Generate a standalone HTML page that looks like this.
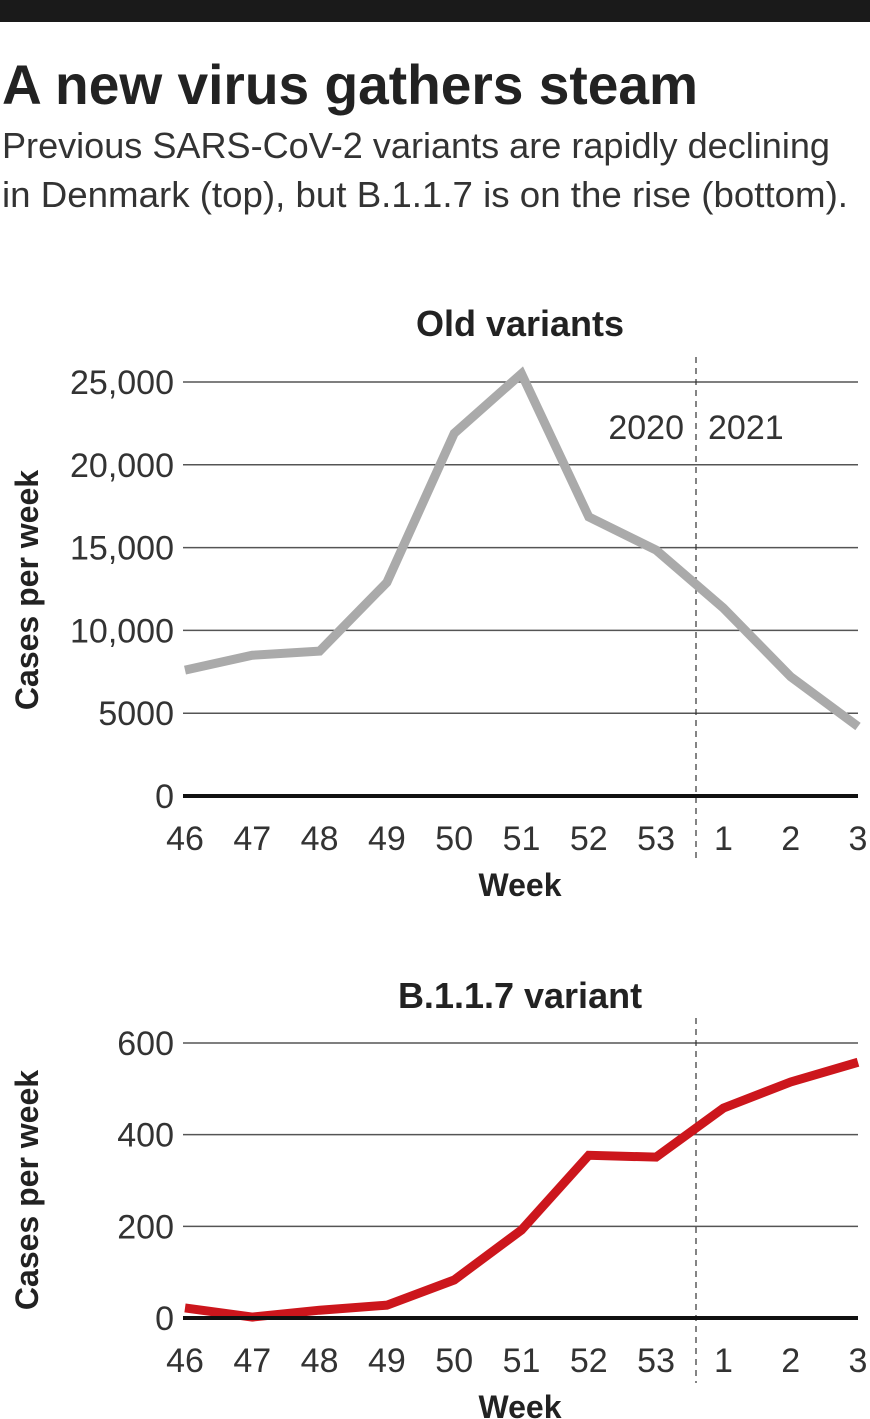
<!DOCTYPE html>
<html><head><meta charset="utf-8"><style>
html,body{margin:0;padding:0;background:#fff;}
svg{display:block;font-family:"Liberation Sans Narrow","Liberation Sans",sans-serif;}
</style></head><body>
<svg id="c" width="870" height="1419" viewBox="0 0 870 1419">
<rect x="0" y="0" width="870" height="22" fill="#1a1a1a"/>
<text x="2" y="104" font-size="56" font-weight="bold" fill="#222" textLength="696" lengthAdjust="spacingAndGlyphs">A new virus gathers steam</text>
<text x="2" y="158" font-size="36" fill="#333" textLength="828" lengthAdjust="spacingAndGlyphs">Previous SARS-CoV-2 variants are rapidly declining</text>
<text x="2" y="207" font-size="36" fill="#333" textLength="846" lengthAdjust="spacingAndGlyphs">in Denmark (top), but B.1.1.7 is on the rise (bottom).</text>
<g id="topchart"></g>
<g id="botchart"></g>
</svg>
<script>
const weeks = ["46","47","48","49","50","51","52","53","1","2","3"];
const oldValues = [7600,8500,8750,12900,21900,25500,16850,14850,11350,7200,4200];
const oldTicks = [0,5000,10000,15000,20000,25000];
const oldTickLabels = ["0","5000","10,000","15,000","20,000","25,000"];
const newValues = [22,2,17,28,83,192,355,351,458,515,558];
const newTicks = [0,200,400,600];
const newTickLabels = ["0","200","400","600"];
const NS="http://www.w3.org/2000/svg";
function mk(tag,attrs,parent,txt){const e=document.createElementNS(NS,tag);for(const k in attrs)e.setAttribute(k,attrs[k]);if(txt!==undefined)e.textContent=txt;parent.appendChild(e);return e;}
const x0=185,x1=858;
function xs(i){return x0+i*(x1-x0)/(weeks.length-1);}
function draw(g,o){
  const ys=v=>o.y0-(v-o.vmin)/(o.vmax-o.vmin)*(o.y0-o.ytop);
  let t=mk('text',{x:520,y:o.titleY,'font-size':36,'font-weight':'bold','text-anchor':'middle',fill:'#222'},g,o.title);
  
  
  o.ticks.forEach((v,i)=>{
    const y=ys(v);
    if(v!==0){const l=mk('line',{x1:183,x2:858,y1:y,y2:y,stroke:'#555','stroke-width':1.5},g);
      
      }
    const lb=mk('text',{x:174,y:y+12,'font-size':34,'text-anchor':'end',fill:'#333'},g,o.tickLabels[i]);
    
    
  });
  const dl=mk('line',{x1:696,x2:696,y1:o.ytop-25,y2:o.y0+65,stroke:'#333','stroke-width':1.2,'stroke-dasharray':'6,5'},g);
  
  
  const pts=o.values.map((v,i)=>xs(i)+','+ys(v)).join(' ');
  const pl=mk('polyline',{points:pts,fill:'none',stroke:o.color,'stroke-width':9,'stroke-linejoin':'miter'},g);
  
  
  const ax=mk('line',{x1:183,x2:858,y1:o.y0,y2:o.y0,stroke:'#111','stroke-width':4},g);
  
  
  weeks.forEach((w,i)=>{
    const lb=mk('text',{x:xs(i),y:o.y0+54,'font-size':34,'text-anchor':'middle',fill:'#333'},g,w);
    
    
  });
  const xt=mk('text',{x:520,y:o.y0+100,'font-size':32,'font-weight':'bold','text-anchor':'middle',fill:'#222'},g,'Week');
  
  
  const yt=mk('text',{x:0,y:0,'font-size':32,'font-weight':'bold','text-anchor':'middle',fill:'#222',transform:'translate(38,'+o.ytitleY+') rotate(-90)'},g,'Cases per week');
  
  
}
const gTop=document.getElementById('topchart'),gBot=document.getElementById('botchart');
draw(gTop,{title:'Old variants',titleY:336,y0:796,ytop:382,vmin:0,vmax:25000,ticks:oldTicks,tickLabels:oldTickLabels,values:oldValues,color:'#aaaaaa',ytitleY:590});
draw(gBot,{title:'B.1.1.7 variant',titleY:1008,y0:1318,ytop:1043,vmin:0,vmax:600,ticks:newTicks,tickLabels:newTickLabels,values:newValues,color:'#cc161c',ytitleY:1190});
let a=mk('text',{x:684,y:439,'font-size':34,'text-anchor':'end',fill:'#333'},gTop,'2020');


let b=mk('text',{x:708,y:439,'font-size':34,fill:'#333'},gTop,'2021');


</script>
</body></html>
